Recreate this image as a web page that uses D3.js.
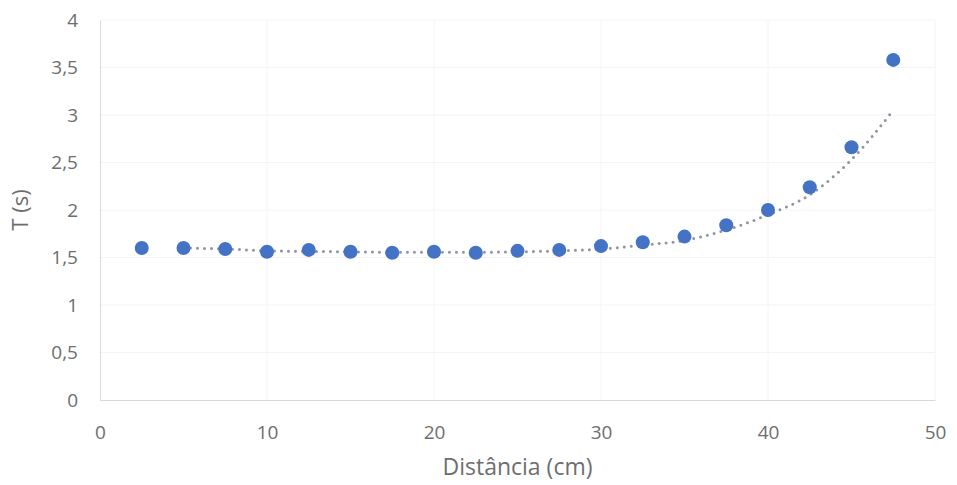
<!DOCTYPE html>
<html>
<head>
<meta charset="utf-8">
<script src="https://cdn.jsdelivr.net/npm/d3@7"></script>
<style>
    body { margin: 0; background: #fff; }
    text { font-family: "Open Sans", "Noto Sans", sans-serif; fill: #6e6e6e; }
</style>
</head>
<body>
<div id="chart"></div>
<script>
// Measured points (distance in cm, period in s)
const distances = [2.5, 5, 7.5, 10, 12.5, 15, 17.5, 20, 22.5, 25, 27.5, 30, 32.5, 35, 37.5, 40, 42.5, 45, 47.5];
const periods = [1.60, 1.60, 1.59, 1.56, 1.58, 1.56, 1.55, 1.56, 1.55, 1.57, 1.58, 1.62, 1.66, 1.72, 1.84, 2.00, 2.24, 2.66, 3.58];

// Trend line
const trendX = [5, 7.5, 10, 12.5, 15, 17.5, 20, 22.5, 25, 27.5, 30, 32.5, 35, 37.5, 40, 42.5, 45, 47.5];
const trendY = [1.60, 1.59, 1.57, 1.565, 1.56, 1.555, 1.555, 1.555, 1.56, 1.57, 1.59, 1.63, 1.68, 1.79, 1.95, 2.16, 2.53, 3.05];

const xTicks = [0, 10, 20, 30, 40, 50];
const yTicks = [0, 0.5, 1, 1.5, 2, 2.5, 3, 3.5, 4];

const width = 957, height = 485;
const margin = { top: 20, right: 22, bottom: 85, left: 100 };

const svg = d3.select('#chart')
    .append('svg')
    .attr('width', width)
    .attr('height', height);

const x = d3.scaleLinear([0, 50], [margin.left, width - margin.right]);
const y = d3.scaleLinear([0, 4], [height - margin.bottom, margin.top]);

const fmt = d => String(d).replace('.', ',');

// faint gridlines
svg.append('g')
    .selectAll('line')
    .data(yTicks.slice(1))
    .join('line')
    .attr('x1', x(0)).attr('x2', x(50))
    .attr('y1', d => y(d)).attr('y2', d => y(d))
    .attr('stroke', '#f4f4f4');

svg.append('g')
    .selectAll('line')
    .data(xTicks.slice(1))
    .join('line')
    .attr('x1', d => x(d)).attr('x2', d => x(d))
    .attr('y1', y(0)).attr('y2', y(4))
    .attr('stroke', '#f4f4f4');

// axes
const xAxis = svg.append('g')
    .attr('transform', `translate(0,${y(0)})`)
    .call(d3.axisBottom(x).tickValues(xTicks).tickSize(0).tickPadding(26).tickFormat(fmt));

const yAxis = svg.append('g')
    .attr('transform', `translate(${x(0)},0)`)
    .call(d3.axisLeft(y).tickValues(yTicks).tickSize(0).tickPadding(22).tickFormat(fmt));

[xAxis, yAxis].forEach(a => {
    a.select('.domain').attr('stroke', '#d9d9d9');
    a.selectAll('text')
        .style('font-size', '19px')
        .style('font-family', '"Open Sans", sans-serif')
        .attr('fill', '#6e6e6e');
});

// axis titles
svg.append('text')
    .attr('x', (x(0) + x(50)) / 2)
    .attr('y', 475)
    .attr('text-anchor', 'middle')
    .style('font-size', '23px')
    .text('Distância (cm)');

svg.append('text')
    .attr('transform', `translate(28,${y(2)}) rotate(-90)`)
    .attr('text-anchor', 'middle')
    .style('font-size', '22px')
    .text('T (s)');

// trend line (dotted)
svg.append('path')
    .datum(trendX.map((d, i) => [d, trendY[i]]))
    .attr('fill', 'none')
    .attr('stroke', '#8f95a0')
    .attr('stroke-width', 3)
    .attr('stroke-linecap', 'round')
    .attr('stroke-dasharray', '0,7')
    .attr('d', d3.line()
        .x(d => x(d[0]))
        .y(d => y(d[1]))
        .curve(d3.curveMonotoneX));

// data points
svg.append('g')
    .selectAll('circle')
    .data(distances.map((d, i) => [d, periods[i]]))
    .join('circle')
    .attr('cx', d => x(d[0]))
    .attr('cy', d => y(d[1]))
    .attr('r', 7)
    .attr('fill', '#4472c4');
</script>
</body>
</html>
